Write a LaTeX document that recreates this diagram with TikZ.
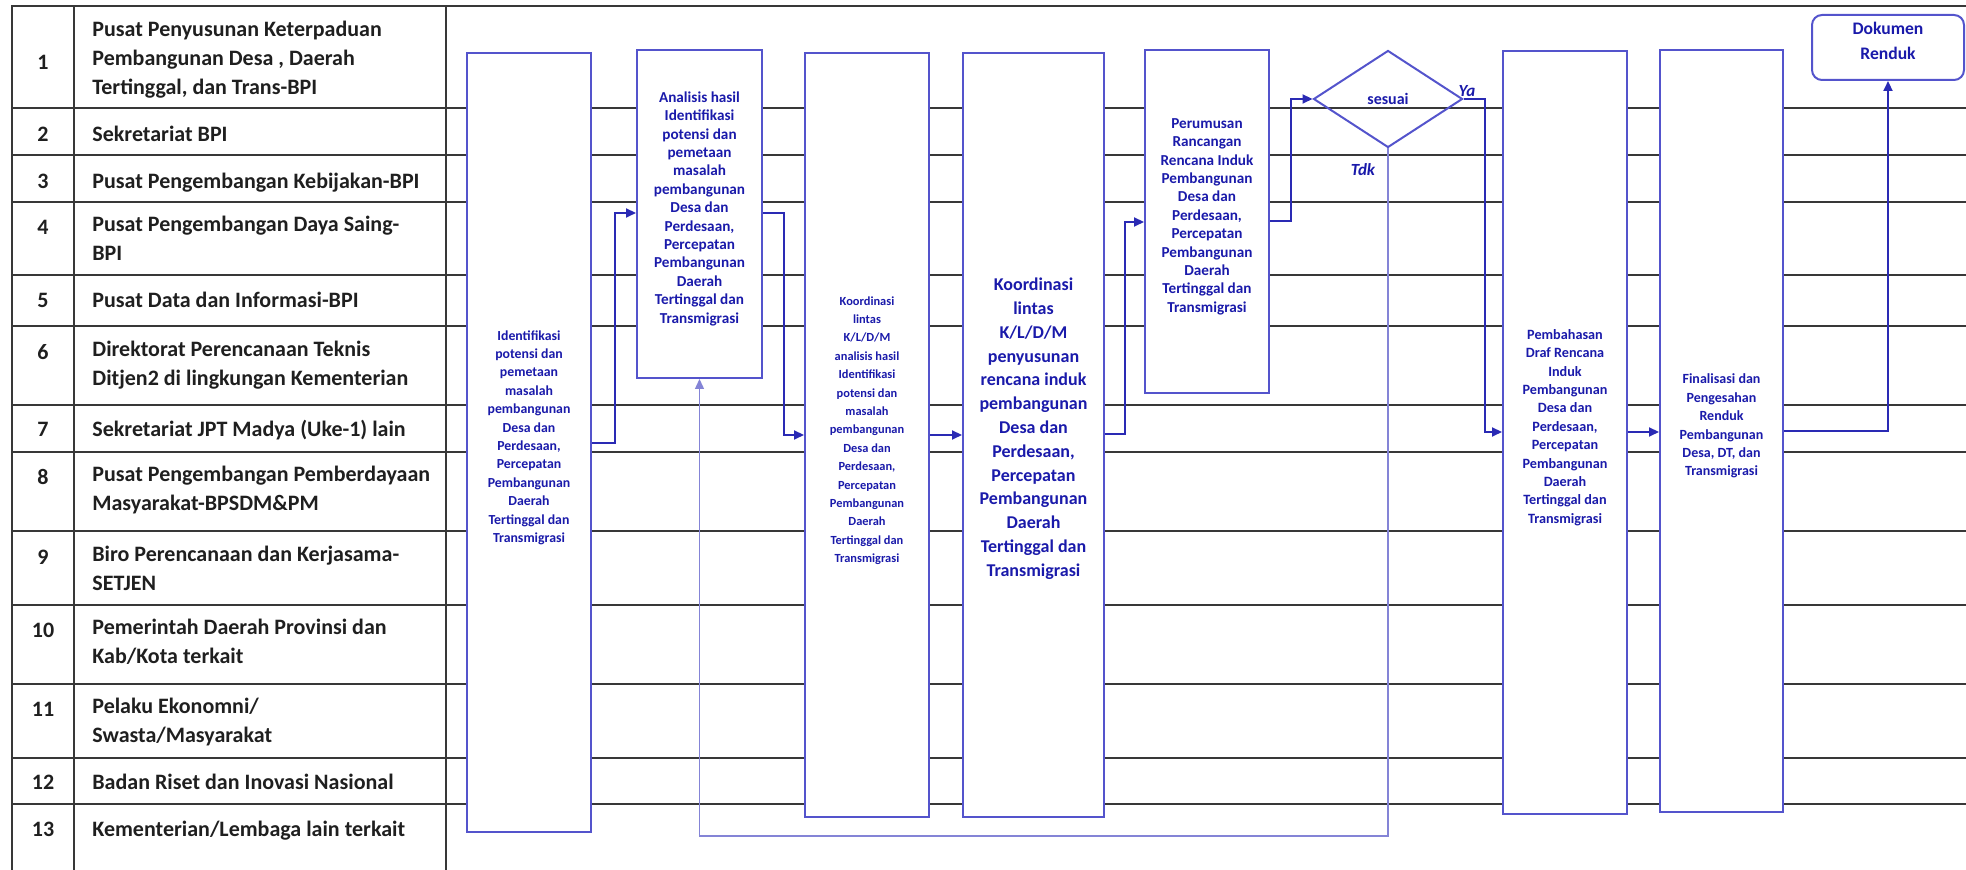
\documentclass[tikz,border=0pt]{standalone}
\usepackage{fontspec}
\setmainfont{Carlito}
\usetikzlibrary{arrows.meta, positioning, shapes.geometric, fit}
\definecolor{cgrid}{HTML}{383838}
\definecolor{cedge}{HTML}{5454CC}
\definecolor{cink}{HTML}{1A1AAA}
\definecolor{cflow}{HTML}{2A2AB4}
\definecolor{cloop}{HTML}{8484D6}
\newcommand{\boxfont}[1]{\fontsize{#1}{9.2}\selectfont\bfseries}
\tikzset{
  laneline/.style={draw=cgrid, line width=1.3pt},
  lane/.style={font=\fontsize{11}{14.3}\selectfont\bfseries, text=black!88, inner sep=0pt, align=left, execute at begin node={\rule{0pt}{9pt}}},
  stage/.style={draw=cedge, fill=white, line width=1pt, inner sep=0pt, align=center, text=cink},
  flow/.style={draw=cflow, line width=1pt, -{Triangle[length=5pt, width=4.5pt]}},
  loop/.style={draw=cloop, line width=0.7pt, -{Triangle[length=5pt, width=4.5pt]}},
  answer/.style={font=\fontsize{8.5}{10}\selectfont\bfseries\itshape, text=cink, inner sep=0pt},
}

\begin{document}
\begin{tikzpicture}[x=0.5pt, y=-0.5pt]
  \useasboundingbox (0,0) rectangle (1966,870);
  % table of units
  \draw[laneline] (12,870) -- (12,6) -- (1966,6);
  \draw[laneline] (74,6) -- (74,870);
  \draw[laneline] (446,6) -- (446,870);
  \foreach \y in {108,155,202,275,326,405,452,531,605,684,758,804}
    \draw[laneline] (12,\y) -- (1966,\y);
  \node[lane, anchor=north] (n1) at (43,51) {1};
  \node[lane, anchor=north west] (u1) at (92,21) {Pusat Penyusunan Keterpaduan\\Pembangunan Desa , Daerah\\Tertinggal, dan Trans-BPI};
  \node[lane, anchor=north] (n2) at (43,123) {2};
  \node[lane, anchor=north west] (u2) at (92,123) {Sekretariat BPI};
  \node[lane, anchor=north] (n3) at (43,170) {3};
  \node[lane, anchor=north west] (u3) at (92,170) {Pusat Pengembangan Kebijakan-BPI};
  \node[lane, anchor=north] (n4) at (43,216) {4};
  \node[lane, anchor=north west] (u4) at (92,216) {Pusat Pengembangan Daya Saing-\\BPI};
  \node[lane, anchor=north] (n5) at (43,289) {5};
  \node[lane, anchor=north west] (u5) at (92,289) {Pusat Data dan Informasi-BPI};
  \node[lane, anchor=north] (n6) at (43,341) {6};
  \node[lane, anchor=north west] (u6) at (92,341) {Direktorat Perencanaan Teknis\\Ditjen2 di lingkungan Kementerian};
  \node[lane, anchor=north] (n7) at (43,418) {7};
  \node[lane, anchor=north west] (u7) at (92,418) {Sekretariat JPT Madya (Uke-1) lain};
  \node[lane, anchor=north] (n8) at (43,466) {8};
  \node[lane, anchor=north west] (u8) at (92,466) {Pusat Pengembangan Pemberdayaan\\Masyarakat-BPSDM\&PM};
  \node[lane, anchor=north] (n9) at (43,546) {9};
  \node[lane, anchor=north west] (u9) at (92,546) {Biro Perencanaan dan Kerjasama-\\SETJEN};
  \node[lane, anchor=north] (n10) at (43,619) {10};
  \node[lane, anchor=north west] (u10) at (92,619) {Pemerintah Daerah Provinsi dan\\Kab/Kota terkait};
  \node[lane, anchor=north] (n11) at (43,698) {11};
  \node[lane, anchor=north west] (u11) at (92,698) {Pelaku Ekonomni/\\Swasta/Masyarakat};
  \node[lane, anchor=north] (n12) at (43,771) {12};
  \node[lane, anchor=north west] (u12) at (92,771) {Badan Riset dan Inovasi Nasional};
  \node[lane, anchor=north] (n13) at (43,818) {13};
  \node[lane, anchor=north west] (u13) at (92,818) {Kementerian/Lembaga lain terkait};
  % process steps
  \node[stage, fit={(467,53) (591,832)}, font=\boxfont{6.9}] (ident) {Identifikasi\\potensi dan\\pemetaan\\masalah\\pembangunan\\Desa dan\\Perdesaan,\\Percepatan\\Pembangunan\\Daerah\\Tertinggal dan\\Transmigrasi};
  \node[stage, fit={(637,50) (762,378)}, font=\boxfont{7.6}] (anls) {Analisis hasil\\Identifikasi\\potensi dan\\pemetaan\\masalah\\pembangunan\\Desa dan\\Perdesaan,\\Percepatan\\Pembangunan\\Daerah\\Tertinggal dan\\Transmigrasi};
  \node[stage, fit={(805,53) (929,817)}, font=\boxfont{6.2}] (koorA) {Koordinasi\\lintas\\K/L/D/M\\analisis hasil\\Identifikasi\\potensi dan\\masalah\\pembangunan\\Desa dan\\Perdesaan,\\Percepatan\\Pembangunan\\Daerah\\Tertinggal dan\\Transmigrasi};
  \node[stage, fit={(963,53) (1104,817)}, font=\fontsize{9}{11.9}\selectfont\bfseries] (koorB) {Koordinasi\\lintas\\K/L/D/M\\penyusunan\\rencana induk\\pembangunan\\Desa dan\\Perdesaan,\\Percepatan\\Pembangunan\\Daerah\\Tertinggal dan\\Transmigrasi};
  \node[stage, fit={(1145,50) (1269,393)}, font=\boxfont{7.6}] (perum) {Perumusan\\Rancangan\\Rencana Induk\\Pembangunan\\Desa dan\\Perdesaan,\\Percepatan\\Pembangunan\\Daerah\\Tertinggal dan\\Transmigrasi};
  \node[draw=cedge, line width=1pt, diamond, minimum width=74.5pt, minimum height=48.5pt, inner sep=0pt, text=cink, font=\fontsize{8}{9}\selectfont\bfseries] (sesuai) at (1388,99) {sesuai};
  \node[stage, fit={(1503,51) (1627,814)}, font=\boxfont{7.1}] (pemb) {Pembahasan\\Draf Rencana\\Induk\\Pembangunan\\Desa dan\\Perdesaan,\\Percepatan\\Pembangunan\\Daerah\\Tertinggal dan\\Transmigrasi};
  \node[stage, fit={(1660,50) (1783,812)}, font=\boxfont{7}] (final) {Finalisasi dan\\Pengesahan\\Renduk\\Pembangunan\\Desa, DT, dan\\Transmigrasi};
  \node[stage, rounded corners=5pt, fit={(1812,15) (1964,80)}, font=\fontsize{8.8}{12.5}\selectfont\bfseries] (dok) {Dokumen\\Renduk};
  \node[answer] (ya) at (1467,91) {Ya};
  \node[answer] (tdk) at (1363,170) {Tdk};
  % connectors
  \draw[flow] (ident.east |- 0,443) -- ++(23,0) |- (anls.west |- 0,213);
  \draw[flow] (anls.east |- 0,213) -- ++(21,0) |- (koorA.west |- 0,435);
  \draw[flow] (koorA.east |- 0,435) -- (koorB.west |- 0,435);
  \draw[flow] (koorB.east |- 0,434) -- ++(20,0) |- (perum.west |- 0,222);
  \draw[flow] (perum.east |- 0,221) -- ++(21,0) |- (sesuai.west);
  \draw[flow] (sesuai.east) -- ++(21,0) |- (pemb.west |- 0,432);
  \draw[flow] (pemb.east |- 0,432) -- (final.west |- 0,432);
  \draw[flow] (final.east |- 0,431) -| (dok.south);
  \draw[loop] (sesuai.south) -- (sesuai.south |- 0,836) -| (anls.south);
\end{tikzpicture}
\end{document}
